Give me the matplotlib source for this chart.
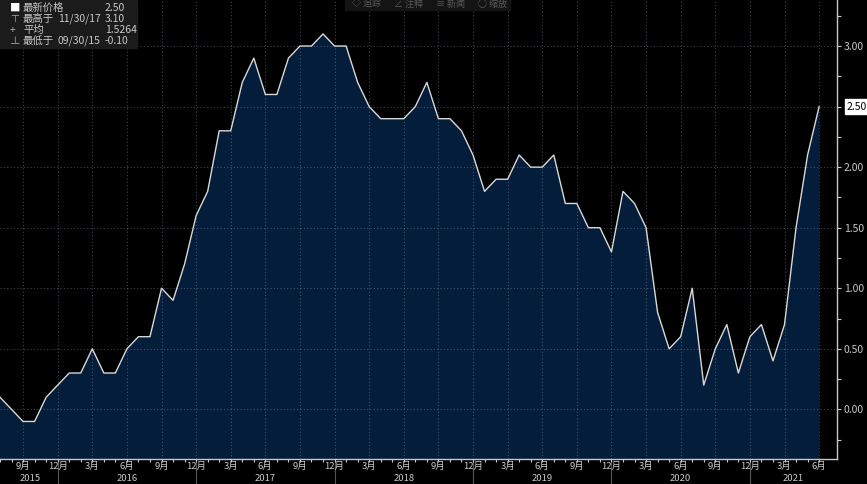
import matplotlib
matplotlib.use("Agg")
import matplotlib.pyplot as plt
import numpy as np

plt.rcParams['font.family'] = ['Noto Sans CJK SC', 'DejaVu Sans']

# monthly values, Jul 2015 .. Jun 2021
start_year, start_month = 2015, 7
values = [0.1, 0.0, -0.1, -0.1, 0.1, 0.2,
          0.3, 0.3, 0.5, 0.3, 0.3, 0.5, 0.6, 0.6, 1.0, 0.9, 1.2, 1.6,
          1.8, 2.3, 2.3, 2.7, 2.9, 2.6, 2.6, 2.9, 3.0, 3.0, 3.1, 3.0,
          3.0, 2.7, 2.5, 2.4, 2.4, 2.4, 2.5, 2.7, 2.4, 2.4, 2.3, 2.1,
          1.8, 1.9, 1.9, 2.1, 2.0, 2.0, 2.1, 1.7, 1.7, 1.5, 1.5, 1.3,
          1.8, 1.7, 1.5, 0.8, 0.5, 0.6, 1.0, 0.2, 0.5, 0.7, 0.3, 0.6,
          0.7, 0.4, 0.7, 1.5, 2.1, 2.5]
legend_rows = [("■", "最新价格", "", "2.50"),
               ("⊤", "最高于", "11/30/17", "3.10"),
               ("+", "平均", "", "1.5264"),
               ("⊥", "最低于", "09/30/15", "-0.10")]
toolbar = ["◇ 追踪", "∠ 注释", "≡ 新闻", "○ 缩放"]
last_label = "2.50"

n = len(values)
x = np.arange(n)
months = [(start_month - 1 + i) % 12 + 1 for i in range(n)]
years = [start_year + (start_month - 1 + i) // 12 for i in range(n)]

bg = "black"
fill_c = "#041d3b"
txt_c = "#c8c8c8"

fig = plt.figure(figsize=(8.67, 4.84), dpi=100, facecolor=bg)
ax = fig.add_axes([0, 25 / 484, 837 / 867, 459 / 484], facecolor=bg)

ax.fill_between(x, values, -1, color=fill_c, zorder=1, lw=0)
ax.plot(x, values, color="#d8d8d8", lw=1.0, zorder=3)

xmin, xmax = 0.27, 72.55
ax.set_xlim(xmin, xmax)
ax.set_ylim(-0.41, 3.38)

# quarter ticks
qi = [i for i in range(n) if months[i] % 3 == 0]
ax.set_xticks(qi)
ax.set_xticklabels([f"{months[i]}月" for i in qi])
ax.set_xticks(x, minor=True)
ax.tick_params(axis="x", which="both", colors=txt_c, labelsize=6.8,
               length=2, width=0.8, pad=0, direction="out")

yt = np.arange(0, 3.01, 0.5)
ax.yaxis.tick_right()
ax.set_yticks(yt)
# the 2.50 slot is covered by the last-value tag
ax.set_yticklabels(["" if f"{v:.2f}" == last_label else f"{v:.2f}" for v in yt])
ax.set_yticks(np.arange(-0.25, 3.3, 0.25), minor=True)
ax.tick_params(axis="y", which="both", colors=txt_c, labelsize=7.5,
               length=3, width=0.8, pad=2)

ax.grid(True, which="major", color="#8894a8", alpha=0.45, lw=0.8,
        linestyle=(0, (1, 2)), zorder=2)
ax.set_axisbelow(False)

for s in ["top", "left"]:
    ax.spines[s].set_visible(False)
for s in ["bottom", "right"]:
    ax.spines[s].set_color("#c8c8c8")
    ax.spines[s].set_linewidth(1.0)

# year labels and separators
trans = ax.get_xaxis_transform()
for yr in sorted(set(years)):
    dec_prev = [i for i in range(n) if years[i] == yr - 1 and months[i] == 12]
    dec_this = [i for i in range(n) if years[i] == yr and months[i] == 12]
    a = dec_prev[0] if dec_prev else xmin
    b = dec_this[0] if dec_this else xmax
    a, b = max(a, xmin), min(b, xmax)
    ax.text((a + b) / 2, -0.043, str(yr), transform=trans, ha="center",
            va="center", color=txt_c, fontsize=6.8, clip_on=False)
    if dec_this:
        ax.plot([b, b], [-0.005, -0.06], transform=trans, color="#555555",
                lw=0.8, clip_on=False)

# last value tag
ax.text(1.012, values[-1], last_label, transform=ax.get_yaxis_transform(),
        ha="left", va="center", color="black", fontsize=7.5, zorder=10,
        clip_on=False, bbox=dict(boxstyle="square,pad=0.2", fc="white",
                                 ec="white"))

# legend box
fig.patches.append(plt.Rectangle((0, 1 - 48 / 484), 137 / 867, 48 / 484,
                                 transform=fig.transFigure, color="#1b1b1b",
                                 zorder=5))
fig.lines.append(plt.Line2D([4 / 867, 4 / 867], [1 - 6 / 484, 1 - 40 / 484],
                            transform=fig.transFigure, color="#888888", lw=0.7))
for k, (icon, name, date, val) in enumerate(legend_rows):
    yy = 1 - (8 + k * 11) / 484
    ax_t = dict(transform=fig.transFigure, color=txt_c, fontsize=7.5,
                va="center", zorder=6)
    fig.text(10 / 867, yy, icon, ha="left",
             **{**ax_t, "color": "white" if k == 0 else "#aaaaaa"})
    fig.text(23 / 867, yy, name, ha="left", **ax_t)
    if date:
        fig.text(58 / 867, yy, date, ha="left", **ax_t)
    fig.text(105 / 867, yy, val, ha="left", **ax_t)

# toolbar
fig.patches.append(plt.Rectangle((345 / 867, 1 - 10 / 484), 165 / 867, 10 / 484,
                                 transform=fig.transFigure, color="#141414",
                                 zorder=5))
for k, t in enumerate(toolbar):
    fig.text((352 + k * 42) / 867, 1 - 4 / 484, t, transform=fig.transFigure,
             color="#5a5a5a", fontsize=6.5, va="center", ha="left", zorder=6)

fig.savefig("out.png", dpi=100, facecolor=bg)
